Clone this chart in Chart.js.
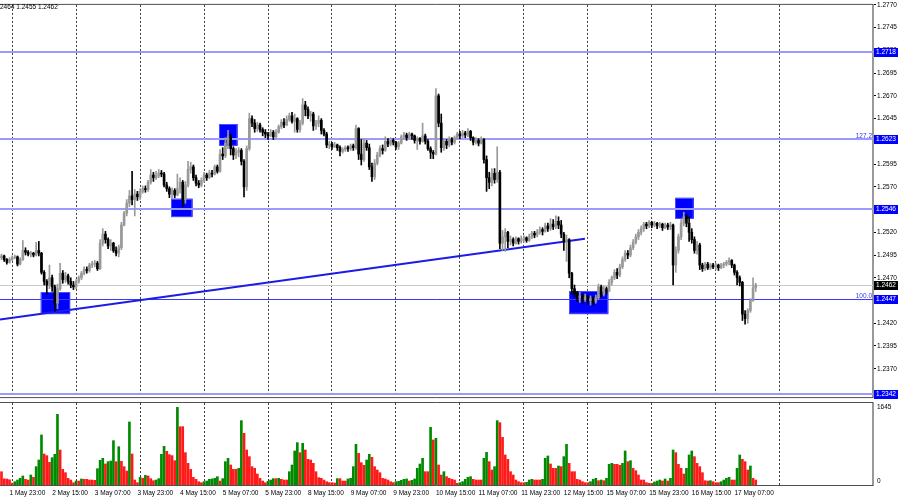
<!DOCTYPE html>
<html>
<head>
<meta charset="utf-8">
<script src="https://cdn.jsdelivr.net/npm/chart.js@4.4.0/dist/chart.umd.min.js"></script>
<style>
  html, body { margin: 0; padding: 0; background: #fff; }
  #wrap { position: relative; width: 900px; height: 500px; overflow: hidden; }
  canvas { position: absolute; left: 0; }
</style>
</head>
<body>
<div id="wrap">
  <canvas id="price" width="900" height="402" style="top:0"></canvas>
  <canvas id="vol" width="900" height="98" style="top:402px"></canvas>
</div>
<script>
// GBPUSD H1, 1 May 19:00 .. 17 May 15:00 (bar index 0..283)
const firstOpen = 1.2492

const closes = [
  1.2494,1.2490,1.2487,1.2490,1.2492,1.2493,1.2485,1.2490,1.2500,1.2498,1.2496,1.2497,1.2495,1.2500,1.2497,
  1.2476,1.2466,1.2462,1.2470,1.2460,1.2442,1.2458,1.2475,1.2468,1.2472,1.2466,
  1.2462,1.2460,1.2466,1.2470,1.2475,1.2479,1.2478,1.2484,1.2485,1.2486,1.2480,
  1.2508,1.2518,1.2512,1.2505,1.2508,1.2500,1.2497,1.2503,1.2528,
  1.2541,1.2552,1.2560,1.2556,1.2562,1.2559,1.2565,1.2568,1.2567,1.2575,1.2583,1.2580,
  1.2582,1.2585,1.2584,1.2572,1.2568,1.2562,1.2566,1.2561,1.2568,1.2575,1.2556,1.2572,1.2589,1.2592,1.2580,
  1.2574,1.2572,1.2577,1.2583,1.2580,1.2585,1.2584,1.2592,1.2587,1.2606,1.2604,1.2618,1.2625,1.2612,1.2605,1.2608,1.2610,1.2598,1.2570,1.2612,
  1.2645,1.2640,1.2634,1.2638,1.2633,1.2630,1.2628,1.2626,1.2630,1.2625,1.2630,1.2636,1.2641,1.2638,1.2644,
  1.2648,1.2642,1.2645,1.2633,1.2640,1.2660,1.2655,1.2648,1.2650,1.2637,1.2640,1.2643,1.2632,1.2628,1.2616,
  1.2617,1.2614,1.2616,1.2613,1.2609,1.2611,1.2613,1.2612,1.2615,1.2613,1.2634,1.2606,1.2600,1.2618,1.2613,1.2592,
  1.2581,1.2596,1.2605,1.2612,1.2610,1.2620,1.2617,1.2621,1.2619,1.2614,1.2618,1.2625,1.2627,1.2624,1.2628,1.2626,
  1.2621,1.2623,1.2620,1.2626,1.2620,1.2612,1.2608,1.2606,1.2670,1.2640,1.2613,1.2620,1.2616,1.2622,1.2619,1.2624,
  1.2628,1.2626,1.2629,1.2627,1.2631,1.2624,1.2619,1.2621,1.2618,1.2622,1.2600,1.2580,1.2575,1.2585,1.2578,
  1.2586,1.2508,1.2515,1.2520,1.2510,1.2512,1.2508,1.2513,1.2510,1.2512,1.2514,1.2511,1.2515,1.2519,1.2517,
  1.2520,1.2523,1.2521,1.2527,1.2524,1.2529,1.2526,1.2532,1.2528,1.2518,1.2510,1.2512,1.2475,1.2458,1.2452,
  1.2448,1.2450,1.2446,1.2449,1.2445,1.2447,1.2444,1.2448,1.2460,1.2452,1.2458,1.2455,
  1.2465,1.2470,1.2476,1.2473,1.2482,1.2490,1.2497,1.2495,1.2503,1.2509,1.2515,1.2520,1.2524,1.2529,
  1.2527,1.2531,1.2528,1.2530,1.2527,1.2529,1.2525,1.2528,1.2526,1.2528,1.2484,1.2500,1.2515,1.2530,
  1.2537,1.2530,1.2520,1.2512,1.2500,1.2506,1.2484,1.2480,1.2485,1.2481,1.2484,1.2482,1.2484,1.2481,
  1.2484,1.2485,1.2487,1.2489,1.2484,1.2476,1.2470,1.2465,1.2430,1.2425,1.2434,1.2445,1.2459,1.2462
]

const highs = [
  1.2496,1.2495,1.2491,1.2492,1.2494,1.2495,1.2494,1.2492,1.2511,1.2503,1.2500,1.2499,1.2498,1.2509,1.2510,
  1.2498,1.2478,1.2468,1.2484,1.2473,1.2462,1.2463,1.2486,1.2478,1.2476,1.2474,
  1.2470,1.2466,1.2468,1.2472,1.2477,1.2482,1.2482,1.2486,1.2488,1.2489,1.2488,
  1.2512,1.2524,1.2521,1.2514,1.2512,1.2509,1.2504,1.2506,1.2531,
  1.2543,1.2556,1.2566,1.2587,1.2567,1.2565,1.2568,1.2571,1.2571,1.2577,1.2589,1.2586,
  1.2587,1.2589,1.2588,1.2586,1.2575,1.2570,1.2569,1.2568,1.2584,1.2580,1.2577,1.2576,1.2598,1.2597,1.2594,
  1.2583,1.2577,1.2580,1.2586,1.2585,1.2588,1.2588,1.2594,1.2594,1.2611,1.2613,1.2624,1.2632,1.2628,1.2614,1.2612,1.2613,1.2612,1.2600,1.2615,
  1.2651,1.2648,1.2644,1.2641,1.2640,1.2635,1.2633,1.2630,1.2633,1.2632,1.2633,1.2638,1.2644,1.2645,1.2648,
  1.2651,1.2652,1.2650,1.2646,1.2643,1.2667,1.2664,1.2658,1.2653,1.2652,1.2643,1.2648,1.2645,1.2634,1.2630,
  1.2620,1.2619,1.2619,1.2617,1.2615,1.2613,1.2615,1.2615,1.2617,1.2617,1.2638,1.2635,1.2622,1.2623,1.2621,1.2617,
  1.2596,1.2600,1.2608,1.2615,1.2616,1.2625,1.2623,1.2624,1.2623,1.2620,1.2620,1.2627,1.2630,1.2629,1.2630,1.2629,
  1.2627,1.2625,1.2624,1.2640,1.2628,1.2622,1.2614,1.2610,1.2678,1.2672,1.2650,1.2623,1.2622,1.2625,1.2624,1.2626,
  1.2630,1.2631,1.2632,1.2631,1.2634,1.2632,1.2625,1.2624,1.2623,1.2625,1.2623,1.2604,1.2586,1.2590,1.2590,
  1.2614,1.2588,1.2522,1.2524,1.2521,1.2516,1.2514,1.2515,1.2514,1.2516,1.2516,1.2515,1.2518,1.2521,1.2521,
  1.2523,1.2526,1.2525,1.2530,1.2530,1.2535,1.2534,1.2538,1.2537,1.2533,1.2520,1.2517,1.2513,1.2476,1.2462,
  1.2455,1.2454,1.2452,1.2452,1.2451,1.2450,1.2449,1.2451,1.2463,1.2462,1.2461,1.2460,
  1.2468,1.2472,1.2479,1.2480,1.2485,1.2493,1.2500,1.2500,1.2506,1.2512,1.2518,1.2523,1.2527,1.2531,
  1.2531,1.2533,1.2532,1.2532,1.2531,1.2531,1.2530,1.2530,1.2530,1.2531,1.2529,1.2504,1.2518,1.2534,
  1.2542,1.2540,1.2537,1.2524,1.2515,1.2510,1.2508,1.2486,1.2487,1.2487,1.2486,1.2486,1.2486,1.2485,
  1.2486,1.2487,1.2489,1.2492,1.2490,1.2485,1.2478,1.2472,1.2466,1.2434,1.2436,1.2447,1.2470,1.2464
]

const lows = [
  1.2490,1.2488,1.2485,1.2486,1.2489,1.2491,1.2483,1.2484,1.2489,1.2495,1.2494,1.2493,1.2493,1.2494,1.2494,
  1.2474,1.2462,1.2452,1.2458,1.2455,1.2433,1.2436,1.2456,1.2464,1.2465,1.2463,
  1.2459,1.2457,1.2458,1.2464,1.2468,1.2473,1.2475,1.2476,1.2481,1.2482,1.2478,
  1.2479,1.2505,1.2508,1.2502,1.2500,1.2498,1.2494,1.2493,1.2501,
  1.2527,1.2538,1.2548,1.2550,1.2538,1.2555,1.2556,1.2563,1.2564,1.2565,1.2573,1.2576,
  1.2578,1.2580,1.2581,1.2570,1.2565,1.2558,1.2557,1.2558,1.2560,1.2563,1.2548,1.2552,1.2570,1.2585,1.2577,
  1.2571,1.2569,1.2570,1.2575,1.2577,1.2579,1.2581,1.2583,1.2585,1.2586,1.2600,1.2602,1.2612,1.2605,1.2600,1.2601,1.2603,1.2594,1.2559,1.2566,
  1.2610,1.2636,1.2630,1.2631,1.2630,1.2626,1.2624,1.2622,1.2625,1.2622,1.2624,1.2629,1.2634,1.2635,1.2637,
  1.2642,1.2640,1.2630,1.2630,1.2630,1.2638,1.2648,1.2645,1.2642,1.2632,1.2633,1.2636,1.2628,1.2626,1.2613,
  1.2612,1.2611,1.2613,1.2610,1.2604,1.2607,1.2609,1.2609,1.2610,1.2610,1.2611,1.2600,1.2594,1.2598,1.2610,1.2589,
  1.2576,1.2578,1.2594,1.2603,1.2606,1.2609,1.2614,1.2615,1.2616,1.2611,1.2611,1.2617,1.2622,1.2621,1.2623,1.2622,
  1.2618,1.2611,1.2617,1.2619,1.2617,1.2610,1.2601,1.2601,1.2605,1.2636,1.2608,1.2610,1.2612,1.2614,1.2616,1.2617,
  1.2622,1.2623,1.2624,1.2624,1.2625,1.2621,1.2616,1.2617,1.2615,1.2617,1.2596,1.2565,1.2568,1.2571,1.2574,
  1.2575,1.2502,1.2500,1.2499,1.2503,1.2506,1.2505,1.2507,1.2507,1.2508,1.2509,1.2509,1.2510,1.2513,1.2514,
  1.2515,1.2518,1.2517,1.2520,1.2521,1.2522,1.2523,1.2524,1.2524,1.2514,1.2500,1.2488,1.2470,1.2452,1.2449,
  1.2444,1.2443,1.2442,1.2444,1.2441,1.2440,1.2440,1.2442,1.2446,1.2449,1.2450,1.2452,
  1.2455,1.2462,1.2468,1.2469,1.2471,1.2480,1.2488,1.2491,1.2493,1.2501,1.2507,1.2512,1.2517,1.2521,
  1.2524,1.2525,1.2525,1.2526,1.2524,1.2525,1.2522,1.2524,1.2523,1.2523,1.2462,1.2476,1.2497,1.2512,
  1.2527,1.2526,1.2510,1.2508,1.2497,1.2496,1.2479,1.2477,1.2478,1.2479,1.2479,1.2480,1.2479,1.2478,
  1.2480,1.2481,1.2483,1.2484,1.2481,1.2473,1.2462,1.2461,1.2423,1.2419,1.2420,1.2432,1.2444,1.2455
]

const volumes = [
  280,130,125,110,
  40,70,105,141,190,120,105,211,162,387,527,1055,654,619,478,576,647,1490,738,330,260,141,105,49,
  84,84,127,120,120,105,105,98,344,520,562,443,492,506,935,492,808,499,387,295,1329,654,105,49,
  162,141,204,190,134,91,105,134,647,815,710,640,619,513,1638,1230,1230,682,457,330,162,120,70,49,
  70,84,120,127,141,176,84,134,492,562,422,330,330,352,1357,1090,738,598,387,352,232,141,84,49,
  77,105,134,134,141,120,105,105,281,422,717,893,682,879,738,541,527,457,281,155,141,105,70,49,
  49,42,134,134,84,84,127,141,387,858,668,471,415,527,647,584,387,316,260,141,127,105,70,49,
  70,77,98,120,127,84,98,127,352,443,562,281,281,1216,949,984,422,211,281,176,141,120,105,35,
  49,70,120,162,176,120,105,105,105,562,689,492,316,387,1357,1315,1005,633,541,281,211,105,70,49,
  49,56,105,120,105,105,105,120,562,612,443,352,352,401,387,598,858,457,281,281,120,105,70,49,
  49,70,120,141,91,105,91,141,436,457,436,436,415,457,717,492,513,352,302,211,105,105,49,35,
  35,63,84,105,84,127,84,141,738,682,436,352,232,352,633,717,598,457,387,260,91,84,91,70,
  49,49,70,105,141,162,105,105,352,633,541,492,316,401,140,105
]

const priceTicks = [1.2370, 1.2395, 1.2420, 1.2445, 1.2470, 1.2495, 1.2520, 1.2545, 1.2570,
  1.2595, 1.2620, 1.2645, 1.2670, 1.2695, 1.2720, 1.2745, 1.2770]
const labelBars = [3, 19, 35, 51, 67, 83, 99, 115, 131, 147, 163, 179, 195, 211, 227, 243, 259, 275]
const timeLabels = ["1 May 23:00", "2 May 15:00", "3 May 07:00", "3 May 23:00", "4 May 15:00",
  "5 May 07:00", "5 May 23:00", "8 May 15:00", "9 May 07:00", "9 May 23:00", "10 May 15:00",
  "11 May 07:00", "11 May 23:00", "12 May 15:00", "15 May 07:00", "15 May 23:00", "16 May 15:00",
  "17 May 07:00"]
const dayBars = [4, 28, 52, 76, 100, 124, 148, 172, 196, 220, 244, 268, 292]

const levels = [1.2718, 1.2623, 1.2546, 1.2447, 1.2342]
const fibLevels = [1.2623, 1.2447]
const fibNames = ["127.2", "100.0"]
const bidPrice = 1.2462
const trendLine = [[-0.56, 1.2424], [218.9, 1.2513]]
// [bar from, bar to, price top, price bottom]
const zones = [
  [14.7, 25.7, 1.2454, 1.2430],
  [63.7, 71.7, 1.2557, 1.2537],
  [81.7, 88.6, 1.2639, 1.2615],
  [213.0, 227.7, 1.2455, 1.2430],
  [252.8, 259.8, 1.2558, 1.2535]
]
const headerText = "2464 1.2455 1.2462"
const volMax = 1645

// ---- layout / style ----
const X_MIN = -0.563, X_MAX = 327.0
const PRICE_MIN = 1.23388, PRICE_MAX = 1.2770
const VOL_TOP = 1729
const FONT = { family: "Liberation Sans, Arial, sans-serif", size: 6.5 }
const FONT_CSS = "6.5px 'Liberation Sans', Arial, sans-serif"
const BULL = "#999999", BEAR = "#000000"
const LEVEL_STYLE = [
  { c: "#9b9bff", w: 2 }, { c: "#9b9bff", w: 2 }, { c: "#9b9bff", w: 2 },
  { c: "#3a3aff", w: 1 }, { c: "#9b9bff", w: 2 }
]

const opens = closes.map((c, i) => (i === 0 ? firstOpen : closes[i - 1]))
const candleColors = closes.map((c, i) => (c >= opens[i] ? BULL : BEAR))

const pricePlugin = {
  id: "priceObjects",
  beforeDatasetsDraw(chart) {
    const { ctx, chartArea: a, scales: { x, y } } = chart
    ctx.save()
    ctx.beginPath()
    ctx.rect(a.left, a.top, a.right - a.left, a.bottom - a.top)
    ctx.clip()

    zones.forEach(([i0, i1, pTop, pBot]) => {
      const l = x.getPixelForValue(i0), r = x.getPixelForValue(i1)
      const t = y.getPixelForValue(pTop), b = y.getPixelForValue(pBot)
      ctx.fillStyle = "#0000ff"
      ctx.fillRect(l, t, r - l, b - t)
      ctx.strokeStyle = "#4d4dff"
      ctx.lineWidth = 1
      ctx.strokeRect(Math.round(l) + 0.5, Math.round(t) + 0.5, r - l - 1, b - t - 1)
    })

    const yb = Math.round(y.getPixelForValue(bidPrice)) + 0.5
    ctx.strokeStyle = "#c8c8c8"
    ctx.lineWidth = 1
    ctx.beginPath(); ctx.moveTo(a.left, yb); ctx.lineTo(a.right, yb); ctx.stroke()

    levels.forEach((p, k) => {
      const st = LEVEL_STYLE[k]
      let yy = y.getPixelForValue(p)
      yy = st.w === 1 ? Math.round(yy) + 0.5 : Math.round(yy)
      ctx.strokeStyle = st.c
      ctx.lineWidth = st.w
      ctx.beginPath(); ctx.moveTo(a.left, yy); ctx.lineTo(a.right, yy); ctx.stroke()
    })

    ctx.strokeStyle = "#1c1ce6"
    ctx.lineWidth = 2
    ctx.beginPath()
    ctx.moveTo(x.getPixelForValue(trendLine[0][0]), y.getPixelForValue(trendLine[0][1]))
    ctx.lineTo(x.getPixelForValue(trendLine[1][0]), y.getPixelForValue(trendLine[1][1]))
    ctx.stroke()
    ctx.restore()
  },
  afterDraw(chart) {
    const { ctx, chartArea: a, scales: { y } } = chart
    ctx.save()
    ctx.font = FONT_CSS
    ctx.textBaseline = "middle"

    // frame
    ctx.strokeStyle = "#505050"
    ctx.lineWidth = 1
    ctx.beginPath()
    ctx.moveTo(0, a.top - 0.5); ctx.lineTo(a.right, a.top - 0.5)
    ctx.moveTo(0, a.bottom + 0.5); ctx.lineTo(a.right, a.bottom + 0.5)
    ctx.stroke()

    ctx.fillStyle = "#000"
    ctx.textAlign = "left"
    ctx.fillText(headerText, 0, 7)

    ctx.fillStyle = "#3535ff"
    ctx.textAlign = "right"
    ctx.textBaseline = "bottom"
    fibLevels.forEach((p, k) => {
      ctx.fillText(fibNames[k], a.right - 1, Math.round(y.getPixelForValue(p)))
    })

    ctx.textAlign = "left"
    ctx.textBaseline = "middle"
    const tag = (p, bg) => {
      const yy = Math.round(y.getPixelForValue(p))
      ctx.fillStyle = bg
      ctx.fillRect(a.right + 1, yy - 4, 24, 9)
      ctx.fillStyle = "#fff"
      ctx.fillText(p.toFixed(4), a.right + 3, yy + 0.5)
    }
    levels.forEach(p => tag(p, "#0000ff"))
    tag(bidPrice, "#000")
    ctx.restore()
  }
}

new Chart(document.getElementById("price"), {
  type: "bar",
  data: {
    datasets: [
      {
        data: closes.map((c, i) => ({ x: i, y: [opens[i], c] })),
        backgroundColor: candleColors,
        barThickness: 2,
        minBarLength: 1,
        grouped: false,
        borderWidth: 0
      },
      {
        data: highs.map((h, i) => ({ x: i, y: [lows[i], h] })),
        backgroundColor: candleColors,
        barThickness: 1,
        grouped: false,
        borderWidth: 0
      }
    ]
  },
  options: {
    responsive: false,
    animation: false,
    layout: { padding: { top: 3, bottom: 1, left: 0, right: 0 } },
    plugins: { legend: { display: false }, tooltip: { enabled: false } },
    scales: {
      x: {
        type: "linear",
        min: X_MIN,
        max: X_MAX,
        offset: false,
        afterBuildTicks: axis => { axis.ticks = dayBars.map(v => ({ value: v })) },
        afterFit: axis => { axis.height = 0 },
        ticks: { display: false },
        grid: { color: "#3c3c3c", drawTicks: false, offset: false },
        border: { display: false, dash: [2, 2] }
      },
      y: {
        type: "linear",
        position: "right",
        min: PRICE_MIN,
        max: PRICE_MAX,
        beginAtZero: false,
        afterBuildTicks: axis => { axis.ticks = priceTicks.map(v => ({ value: v })) },
        afterFit: axis => { axis.width = 27 },
        ticks: {
          autoSkip: false,
          padding: 1,
          color: "#000",
          font: FONT,
          callback: v => v.toFixed(4)
        },
        grid: { drawOnChartArea: false, tickLength: 3, color: "#000" },
        border: { color: "#999", width: 2 }
      }
    }
  },
  plugins: [pricePlugin]
})

const volPlugin = {
  id: "volFrame",
  afterDraw(chart) {
    const { ctx, chartArea: a, scales: { y } } = chart
    ctx.save()
    ctx.strokeStyle = "#505050"
    ctx.lineWidth = 1
    ctx.beginPath()
    ctx.moveTo(0, 0.5); ctx.lineTo(a.right, 0.5)
    ctx.moveTo(0, a.bottom + 0.5); ctx.lineTo(a.right, a.bottom + 0.5)
    ctx.stroke()
    ctx.font = FONT_CSS
    ctx.fillStyle = "#000"
    ctx.textAlign = "left"
    ctx.textBaseline = "middle"
    ctx.fillText(String(volMax), a.right + 4, y.getPixelForValue(volMax))
    ctx.fillText("0", a.right + 4, y.getPixelForValue(0) - 4)
    ctx.restore()
  }
}

new Chart(document.getElementById("vol"), {
  type: "bar",
  data: {
    datasets: [{
      data: volumes.map((v, i) => ({ x: i, y: v })),
      backgroundColor: volumes.map((v, i) => (i > 0 && v > volumes[i - 1] ? "#008a00" : "#ff1a1a")),
      barThickness: 2,
      grouped: false,
      borderWidth: 0
    }]
  },
  options: {
    responsive: false,
    animation: false,
    layout: { padding: { top: 1, bottom: 0, left: 0, right: 0 } },
    plugins: { legend: { display: false }, tooltip: { enabled: false } },
    scales: {
      x: {
        type: "linear",
        min: X_MIN,
        max: X_MAX,
        offset: false,
        afterBuildTicks: axis => { axis.ticks = labelBars.map(v => ({ value: v })) },
        afterFit: axis => { axis.height = 15 },
        ticks: {
          align: "start",
          autoSkip: false,
          maxRotation: 0,
          minRotation: 0,
          padding: 4,
          color: "#000",
          font: FONT,
          callback: (v, i) => timeLabels[i]
        },
        grid: { display: false, drawTicks: false, offset: false },
        border: { display: false }
      },
      xg: {
        type: "linear",
        position: "bottom",
        min: X_MIN,
        max: X_MAX,
        offset: false,
        afterBuildTicks: axis => { axis.ticks = dayBars.map(v => ({ value: v })) },
        afterFit: axis => { axis.height = 0 },
        ticks: { display: false },
        grid: { color: "#3c3c3c", drawTicks: false, offset: false },
        border: { display: false, dash: [2, 2] }
      },
      y: {
        type: "linear",
        position: "right",
        min: 0,
        max: VOL_TOP,
        afterFit: axis => { axis.width = 27 },
        ticks: { display: false },
        grid: { display: false },
        border: { color: "#999", width: 2 }
      }
    }
  },
  plugins: [volPlugin]
})
</script>
</body>
</html>
